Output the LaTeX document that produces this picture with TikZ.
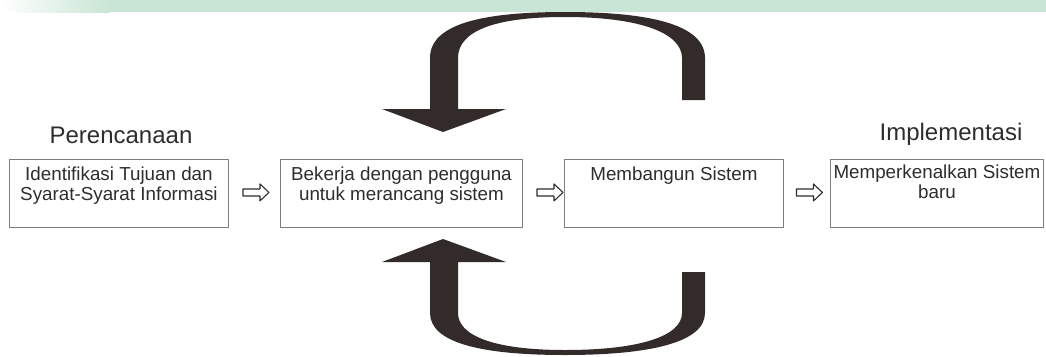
\documentclass[tikz,border=0pt]{standalone}
\usepackage{fontspec}
\setmainfont{Liberation Sans}
\usetikzlibrary{positioning,calc}
\definecolor{arrowdark}{RGB}{51,43,41}
\definecolor{boxline}{RGB}{125,125,125}
\definecolor{textdark}{RGB}{45,45,45}
\definecolor{wmgreen}{RGB}{201,229,213}
\begin{document}
\begin{tikzpicture}[x=1pt, y=-1pt, line join=round,
	kotak/.style={draw=boxline, line width=0.9pt, minimum height=68pt, inner sep=0pt, anchor=north west},
	isi/.style={font=\fontsize{18.8}{19.3}\selectfont, text=textdark, align=center, inner sep=0pt},
	judul/.style={font=\fontsize{24}{28}\selectfont, text=textdark, anchor=base},
	panah/.pic={\draw[draw=textdark, line width=1.1pt, fill=white] (-13,-3.5) -- (4,-3.5) -- (4,-8.5) -- (13,0) -- (4,8.5) -- (4,3.5) -- (-13,3.5) -- cycle;},
	putar/.style={fill=arrowdark}]
	\useasboundingbox (0,0) rectangle (1046,356);
	% latar hijau di atas
	\fill[wmgreen] (0,0) rectangle (1046,12);
	\shade[left color=white, right color=wmgreen] (0,0) rectangle (110,12);
	% kotak-kotak tahapan
	\node[kotak, minimum width=219pt] (b1) at (9,159) {};
	\node[kotak, minimum width=242pt] (b2) at (280,159) {};
	\node[kotak, minimum width=219pt] (b3) at (564,159) {};
	\node[kotak, minimum width=213pt] (b4) at (830,159) {};
	\node[isi, below=8pt of b1.north] (t1) {Identifikasi Tujuan dan\\Syarat-Syarat Informasi};
	\node[isi, below=8pt of b2.north] (t2) {Bekerja dengan pengguna\\untuk merancang sistem};
	\node[isi, below=8pt of b3.north] (t3) {Membangun Sistem};
	\node[isi, below=6pt of b4.north] (t4) {Memperkenalkan Sistem\\baru};
	\node[judul] (perencanaan) at (121,143) {Perencanaan};
	\node[judul] (implementasi) at (951,140) {Implementasi};
	% panah antar kotak
	\foreach \a/\b/\d in {b1/b2/1.5, b2/b3/6.5, b3/b4/2.5}
		\pic (p-\a) at ($(\a.east)!.5!(\b.west)+(\d,-1)$) {panah};
	% panah putar atas dan bawah
	\fill[putar] (382,109) -- (430,109) -- (430,58) .. controls (430,24) and (482,12) .. (565,12) .. controls (648,12) and (705,24) .. (705,58) -- (705,100) -- (682,100) -- (682,58) .. controls (682,33) and (640,17) .. (565,17) .. controls (492,17) and (458,32) .. (458,58) -- (458,109) -- (506,109) -- (443,132) -- cycle;
	\fill[putar] (382,262) -- (430,262) -- (430,313) .. controls (430,343) and (482,355) .. (565,355) .. controls (648,355) and (705,343) .. (705,313) -- (705,272) -- (682,272) -- (682,313) .. controls (682,336) and (640,350) .. (565,350) .. controls (492,350) and (458,335) .. (458,313) -- (458,262) -- (506,262) -- (443,239) -- cycle;
\end{tikzpicture}
\end{document}
